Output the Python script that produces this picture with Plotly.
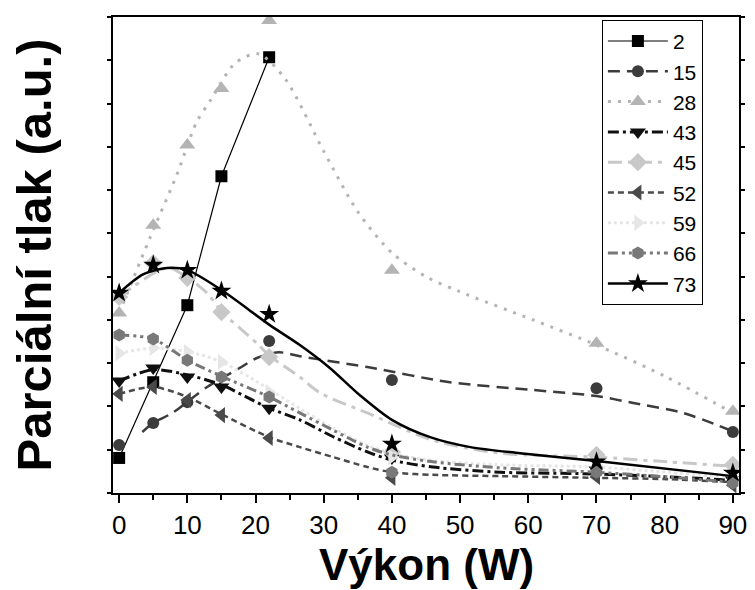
import plotly.graph_objects as go

# ---- data ----
labels = ["2", "15", "28", "43", "45", "52", "59", "66", "73"]

x_2 = [0, 5, 10, 15, 22]
y_2 = [0.81, 2.56, 4.34, 7.32, 10.07]

x_15 = [0, 5, 10, 22, 40, 70, 90]
y_15 = [1.11, 1.62, 2.10, 3.51, 2.61, 2.42, 1.41]

x_28 = [0, 5, 10, 15, 22, 40, 70, 90]
y_28 = [4.16, 6.19, 8.04, 9.35, 10.92, 5.15, 3.46, 1.89]

x_43 = [0, 5, 10, 15, 22, 40, 70, 90]
y_43 = [2.59, 2.89, 2.68, 2.45, 1.96, 0.81, 0.53, 0.30]

x_45 = [0, 5, 10, 15, 22, 40, 70, 90]
y_45 = [4.53, 5.31, 4.97, 4.18, 3.14, 0.95, 0.88, 0.65]

x_52 = [0, 5, 10, 15, 22, 40, 70, 90]
y_52 = [2.29, 2.45, 2.15, 1.80, 1.27, 0.35, 0.37, 0.18]

x_59 = [0, 5, 10, 15, 22, 40, 70, 90]
y_59 = [3.23, 3.35, 3.26, 3.03, 2.33, 0.83, 0.65, 0.35]

x_66 = [0, 5, 10, 15, 22, 40, 70, 90]
y_66 = [3.65, 3.56, 3.07, 2.68, 2.22, 0.48, 0.48, 0.23]

x_73 = [0, 5, 10, 15, 22, 40, 70, 90]
y_73 = [4.62, 5.27, 5.15, 4.67, 4.13, 1.13, 0.72, 0.46]

# smoothed (B-spline) curves as drawn in the picture
cx_15 = [3.4, 5, 7.8, 12.9, 17.7, 20.2, 23.5, 26.5, 36.4, 48.5, 60.7, 70, 75.4, 82.7, 89.6]
cy_15 = [1.41, 1.62, 1.85, 2.45, 2.89, 3.12, 3.25, 3.16, 2.91, 2.56, 2.38, 2.24, 2.08, 1.85, 1.45]

cx_28 = [0, 4.5, 8.5, 11.3, 13.5, 17, 20.4, 24.3, 30, 35, 40, 45, 50, 60.7, 70, 80, 90]
cy_28 = [4.16, 5.89, 7.37, 8.55, 9.10, 9.93, 10.15, 9.58, 7.9, 6.5, 5.55, 5.0, 4.65, 4.0, 3.42, 2.7, 1.85]

cx_43 = [0, 5, 10, 15, 19.5, 22, 26.5, 31.4, 36.4, 40, 46, 55.9, 70, 80.4, 90]
cy_43 = [2.59, 2.85, 2.73, 2.50, 2.15, 1.96, 1.69, 1.30, 0.95, 0.76, 0.60, 0.48, 0.44, 0.37, 0.30]

cx_45 = [0, 7.0, 9.9, 12.9, 15.1, 17.7, 20.2, 22.1, 24.6, 26.5, 29.5, 36.4, 46.0, 55.9, 70, 80.4, 89.9]
cy_45 = [4.53, 5.20, 4.99, 4.62, 4.18, 3.81, 3.46, 3.16, 2.89, 2.68, 2.31, 1.85, 1.22, 0.92, 0.83, 0.72, 0.62]

cx_52 = [0, 5, 10, 15, 22, 26.5, 31.4, 36.4, 40, 46, 55.9, 70, 80.4, 90]
cy_52 = [2.29, 2.45, 2.22, 1.82, 1.29, 1.06, 0.83, 0.60, 0.48, 0.42, 0.39, 0.35, 0.32, 0.25]

cx_59 = [0, 5, 10, 15, 22, 26.5, 31.4, 36.4, 40, 46, 55.9, 70, 80.4, 90]
cy_59 = [3.23, 3.35, 3.27, 3.03, 2.40, 1.95, 1.50, 1.10, 0.92, 0.75, 0.65, 0.60, 0.48, 0.35]

cx_66 = [0, 5, 10, 15, 22, 26.5, 31.4, 36.4, 40, 46, 55.9, 70, 80.4, 90]
cy_66 = [3.65, 3.56, 3.07, 2.70, 2.22, 1.85, 1.45, 1.06, 0.88, 0.72, 0.58, 0.48, 0.37, 0.25]

cx_73 = [0, 3.5, 7, 10, 15, 22.1, 26.5, 30.9, 35.3, 40.0, 45.6, 51.5, 58.8, 70, 90]
cy_73 = [4.62, 5.05, 5.20, 5.15, 4.69, 3.88, 3.42, 2.89, 2.26, 1.69, 1.29, 1.06, 0.92, 0.74, 0.39]

x_ticks = [0, 10, 20, 30, 40, 50, 60, 70, 80, 90]
x_title = "Výkon (W)"
y_title = "Parciální tlak (a.u.)"

series = [
    # label, x, y, curve x, curve y, marker, msize, mcolor, lcolor, lwidth, dash, shape
    ("2", x_2, y_2, x_2, y_2, "square", 12, "#000000", "#000000", 1.2, "solid", "linear"),
    ("15", x_15, y_15, cx_15, cy_15, "circle", 12, "#3c3c3c", "#3c3c3c", 2.5, "12px,7px", "spline"),
    ("28", x_28, y_28, cx_28, cy_28, "triangle-up", 14, "#b4b4b4", "#b4b4b4", 3, "3px,7px", "spline"),
    ("43", x_43, y_43, cx_43, cy_43, "triangle-down", 14, "#101010", "#101010", 3, "11px,4px,3px,4px", "spline"),
    ("45", x_45, y_45, cx_45, cy_45, "diamond", 14, "#c8c8c8", "#c8c8c8", 3, "14px,6px,4px,6px", "spline"),
    ("52", x_52, y_52, cx_52, cy_52, "triangle-left", 14, "#4a4a4a", "#4a4a4a", 2.5, "6px,4px", "spline"),
    ("59", x_59, y_59, cx_59, cy_59, "triangle-right", 14, "#e6e6e6", "#e6e6e6", 3, "3px,3px", "spline"),
    ("66", x_66, y_66, cx_66, cy_66, "hexagon", 13, "#787878", "#787878", 3, "10px,4px,3px,4px,3px,4px", "spline"),
    ("73", x_73, y_73, cx_73, cy_73, "star", 15, "#000000", "#000000", 2.5, "solid", "spline"),
]

fig = go.Figure()
for (lab, xs, ys, cxs, cys, sym, ms, mc, lc, lw, dash, shape) in series:
    fig.add_trace(go.Scatter(
        x=cxs, y=cys, mode="lines", showlegend=False, hoverinfo="skip",
        line=dict(color=lc, width=lw, dash=dash, shape=shape, smoothing=0.8),
    ))
    fig.add_trace(go.Scatter(
        x=xs, y=ys, mode="markers", name=lab, showlegend=False,
        marker=dict(symbol=sym, size=ms, color=mc, line=dict(width=0)),
    ))

# legend entries (line + marker)
for (lab, xs, ys, cxs, cys, sym, ms, mc, lc, lw, dash, shape) in series:
    fig.add_trace(go.Scatter(
        x=[None], y=[None], mode="lines+markers", name=lab,
        marker=dict(symbol=sym, size=ms, color=mc, line=dict(width=0)),
        line=dict(color=lc, width=lw, dash=dash),
    ))

fig.update_layout(
    width=755, height=590,
    margin=dict(l=113, r=16, t=17, b=97),
    paper_bgcolor="white", plot_bgcolor="white",
    font=dict(family="Arial, Liberation Sans, sans-serif", color="black"),
    legend=dict(
        x=0.781, y=0.994, xanchor="left", yanchor="top",
        bgcolor="white", bordercolor="black", borderwidth=1,
        font=dict(size=21, family="Arial, Liberation Sans, sans-serif"),
        itemwidth=60, tracegroupgap=0,
    ),
    xaxis=dict(
        range=[-0.9, 90.9], tickmode="array", tickvals=x_ticks,
        ticktext=[str(v) for v in x_ticks],
        ticks="outside", ticklen=8, tickwidth=2, tickcolor="black",
        minor=dict(dtick=5, ticks="outside", ticklen=5, tickwidth=2, tickcolor="black"),
        showline=True, linewidth=2, linecolor="black", mirror=True,
        showgrid=False, zeroline=False, automargin=False,
        tickfont=dict(size=26, family="Arial, Liberation Sans, sans-serif"),
    ),
    yaxis=dict(
        range=[0, 11], dtick=1, showticklabels=False,
        ticks="outside", ticklen=4, tickwidth=2, tickcolor="black",
        showline=True, linewidth=2, linecolor="black", mirror="ticks",
        showgrid=False, zeroline=False, automargin=False,
        title=dict(text="<b>" + y_title + "</b>", standoff=40,
                   font=dict(size=49, family="Arial, Liberation Sans, sans-serif")),
    ),
    annotations=[dict(
        text="<b>" + x_title + "</b>", xref="paper", yref="paper",
        x=0.5, y=-0.2038, xanchor="center", yanchor="bottom", showarrow=False,
        font=dict(size=44, family="Arial, Liberation Sans, sans-serif", color="black"),
        borderpad=0,
    )],
)

fig.write_html("out.html")
